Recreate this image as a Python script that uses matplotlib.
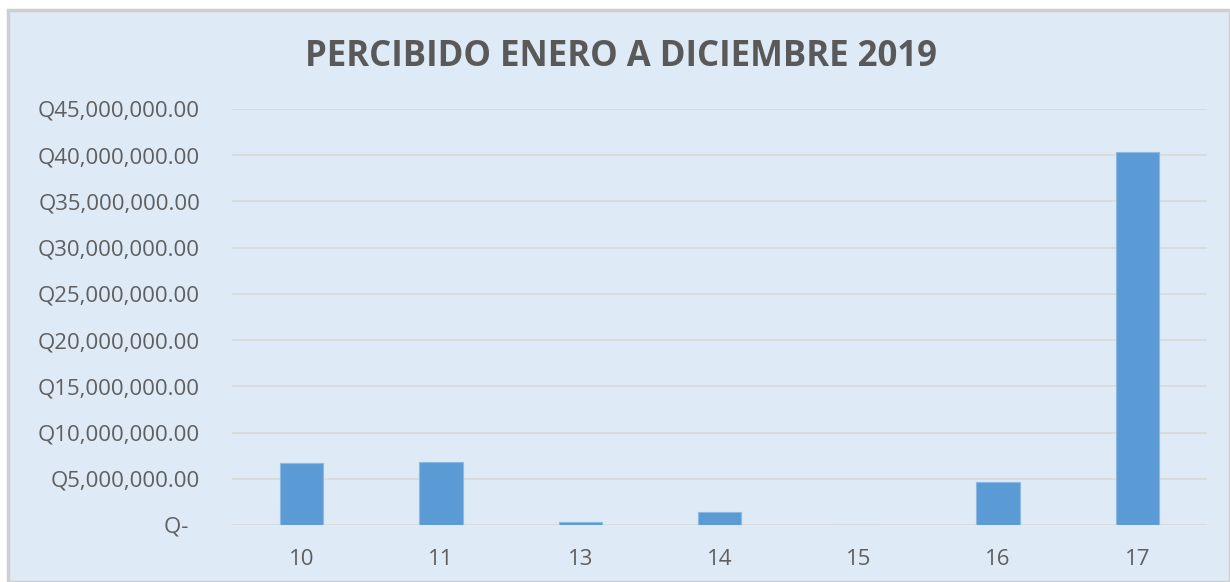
import numpy as np
import matplotlib
matplotlib.use('Agg')
import matplotlib.pyplot as plt
from matplotlib.patches import Rectangle
from matplotlib.ticker import FuncFormatter

# data
categories = ['10', '11', '13', '14', '15', '16', '17']
values = [6680000, 6820000, 290000, 1440000, 0, 4650000, 40400000]
y_ticks = np.arange(0, 45000001, 5000000)

plt.rcParams['font.family'] = ['Open Sans', 'DejaVu Sans']

W, H = 1230, 582
fig = plt.figure(figsize=(W / 100, H / 100), dpi=100)
fig.patch.set_facecolor('white')

# chart area background (Excel style)
bg = Rectangle((8 / W, 0), 1 - 8 / W, 1 - 10 / H, transform=fig.transFigure,
               facecolor='#DEEAF6', edgecolor='#CFCFCF', linewidth=2.5, zorder=-10)
fig.patches.append(bg)

ax = fig.add_axes([232 / W, 1 - 525 / H, (1207 - 232) / W, (525 - 109) / H])
ax.set_facecolor('none')

x = np.arange(len(categories))
ax.bar(x, values, width=0.31, color='#5B9BD5', edgecolor='#8DB8E2',
       linewidth=0.8, zorder=3)

ax.set_xlim(-0.5, len(categories) - 0.5)
ax.set_ylim(0, 45000000)
ax.set_xticks(x)
ax.set_xticklabels(categories)
ax.set_yticks(y_ticks)


def money(v, pos):
    if v == 0:
        return 'Q-  '
    return f'Q{v:,.2f}'


ax.yaxis.set_major_formatter(FuncFormatter(money))
ax.grid(axis='y', color='#D9D9D9', linewidth=1.2, zorder=0)
ax.tick_params(axis='both', length=0, labelsize=16, labelcolor='#5F5F5F')
ax.tick_params(axis='y', pad=23)
ax.tick_params(axis='x', pad=17)
for s in ax.spines.values():
    s.set_visible(False)

fig.text(0.505, 1 - 57 / H, 'PERCIBIDO ENERO A DICIEMBRE 2019', ha='center',
         va='center', fontsize=25, fontweight='bold', color='#595959')

fig.savefig('out.png', dpi=100, facecolor=fig.get_facecolor())
